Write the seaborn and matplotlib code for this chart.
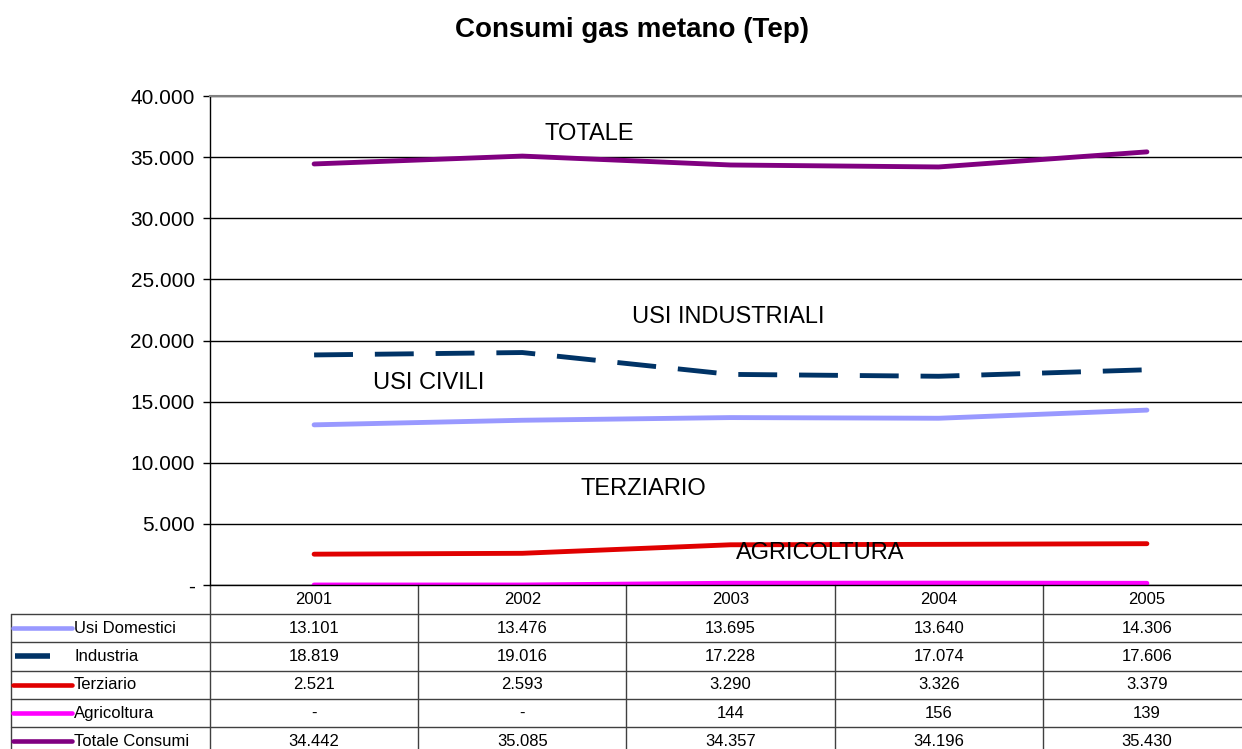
"""
Consumi gas metano (Tep): grafico a linee con tabella dati stile Excel.
"""

import matplotlib

matplotlib.use("Agg")
import matplotlib.pyplot as plt
import matplotlib.transforms as mtransforms
import seaborn as sns
from matplotlib.ticker import FuncFormatter, MultipleLocator

YEARS = ["2001", "2002", "2003", "2004", "2005"]
SERIES_NAMES = ["Usi Domestici", "Industria", "Terziario", "Agricoltura", "Totale Consumi"]
USI_DOMESTICI = [13101, 13476, 13695, 13640, 14306]
INDUSTRIA = [18819, 19016, 17228, 17074, 17606]
TERZIARIO = [2521, 2593, 3290, 3326, 3379]
AGRICOLTURA = [0, 0, 144, 156, 139]
TOTALE = [34442, 35085, 34357, 34196, 35430]

# etichette scritte dentro il grafico: (testo, posizione x, valore y)
ANNOTATIONS = [
    ("TOTALE", 1.32, 36900),
    ("USI INDUSTRIALI", 1.99, 21900),
    ("USI CIVILI", 0.55, 16500),
    ("TERZIARIO", 1.58, 7850),
    ("AGRICOLTURA", 2.43, 2600),
]

COLORS = ["#9999FF", "#003366", "#E00000", "#FF00FF", "#800080"]
W, H = 1242, 749


def fmt_it(v):
    """Formato italiano: punto come separatore delle migliaia, zero come '-'."""
    if v == 0:
        return "-"
    return f"{int(v):,}".replace(",", ".")


def main():
    sns.set_style("white")
    plt.rcParams["font.family"] = ["Liberation Sans", "DejaVu Sans"]
    plt.rcParams["text.color"] = "black"
    plt.rcParams["ytick.color"] = "black"
    plt.rcParams["axes.labelcolor"] = "black"

    fig = plt.figure(figsize=(W / 100, H / 100), dpi=100)
    ax = fig.add_axes([210 / W, 1 - 585 / H, (1251 - 210) / W, (585 - 96) / H])

    x = list(range(len(YEARS)))
    data = [USI_DOMESTICI, INDUSTRIA, TERZIARIO, AGRICOLTURA, TOTALE]
    for name, vals, color in zip(SERIES_NAMES, data, COLORS):
        kw = {"linestyle": (0, (8, 4.5))} if name == "Industria" else {}
        sns.lineplot(x=x, y=vals, color=color, lw=3.5, ax=ax,
                     solid_capstyle="round", **kw)

    ax.set_xlim(-0.5, len(YEARS) - 0.5)
    ax.set_ylim(0, 40000)
    ax.yaxis.set_major_locator(MultipleLocator(5000))
    ax.yaxis.set_major_formatter(FuncFormatter(lambda v, _: fmt_it(v)))
    ax.set_xticks([])
    ax.tick_params(axis="y", length=5, width=1, color="black", labelcolor="black",
                   labelsize=15, pad=6, left=True)
    ax.grid(axis="y", color="black", lw=1)
    ax.set_axisbelow(True)
    for side in ["left", "bottom"]:
        ax.spines[side].set_color("black")
        ax.spines[side].set_linewidth(1)
    ax.spines["top"].set_color("#808080")
    ax.spines["top"].set_linewidth(1.5)
    ax.spines["right"].set_color("#808080")

    for text, tx, ty in ANNOTATIONS:
        ax.text(tx, ty, text, fontsize=17, ha="center", va="center", color="black")

    fig.text(632 / W, 1 - 30 / H, "Consumi gas metano (Tep)",
             fontsize=20, fontweight="bold", ha="center", va="center", color="black")

    # tabella dati sotto il grafico
    trans = mtransforms.blended_transform_factory(ax.transData, fig.transFigure)
    line_kw = {"color": "#404040", "lw": 1, "clip_on": False}

    def fy(py):
        return 1 - py / H

    header_top, header_bottom, row_h = 585, 614, 28.3
    row_lines = [header_bottom + i * row_h for i in range(len(SERIES_NAMES) + 1)]

    for k in range(len(YEARS) + 1):
        ax.plot([k - 0.5, k - 0.5], [fy(header_top), fy(H)], transform=trans, **line_kw)
    for py in row_lines[:-1]:
        fig.add_artist(plt.Line2D([11 / W, 1251 / W], [fy(py), fy(py)], **line_kw))
    fig.add_artist(plt.Line2D([11 / W, 11 / W], [fy(header_bottom), 0], **line_kw))

    for k, year in enumerate(YEARS):
        ax.text(k, fy((header_top + header_bottom) / 2), year, transform=trans,
                fontsize=12, ha="center", va="center", color="black")

    for i, (name, vals, color) in enumerate(zip(SERIES_NAMES, data, COLORS)):
        cy = fy(row_lines[i] + row_h / 2)
        if name == "Industria":
            key = plt.Line2D([15 / W, 50 / W], [cy, cy], color=color, lw=4,
                             solid_capstyle="butt")
        else:
            key = plt.Line2D([13 / W, 72 / W], [cy, cy], color=color, lw=3.3,
                             solid_capstyle="round")
        fig.add_artist(key)
        fig.text(74 / W, cy, name, fontsize=12, ha="left", va="center", color="black")
        for k, v in enumerate(vals):
            ax.text(k, cy, fmt_it(v), transform=trans, fontsize=12,
                    ha="center", va="center", color="black")

    fig.savefig("out.png", dpi=100)
    plt.close(fig)


if __name__ == "__main__":
    main()
